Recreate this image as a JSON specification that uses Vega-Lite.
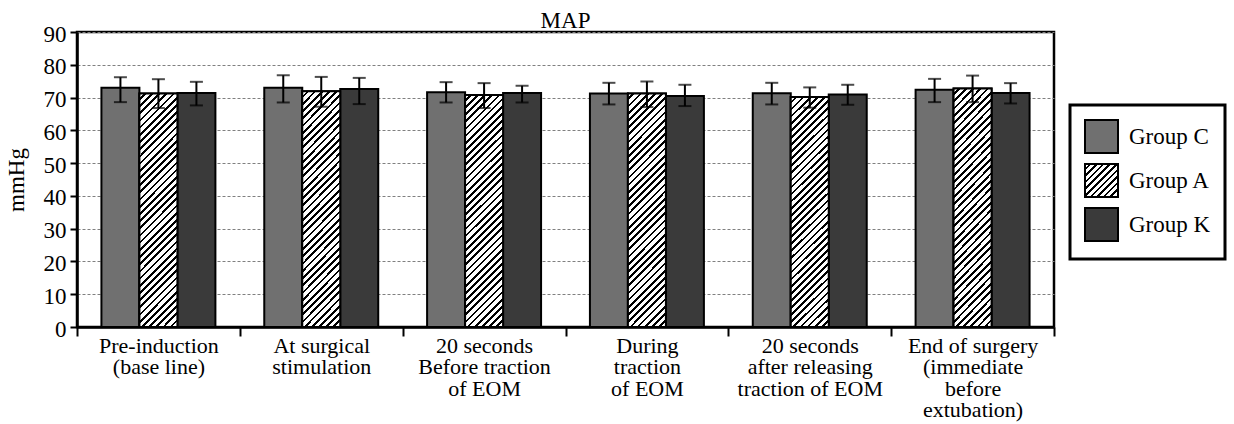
{
  "$schema": "https://vega.github.io/schema/vega-lite/v6.json",
  "autosize": {"type": "none"},
  "padding": {"left": 77, "top": 32, "right": 180, "bottom": 97},
  "width": 977,
  "height": 295,
  "title": {"text": "MAP"},
  "params": [
    {"name": "hatch", "value": {"gradient": "linear", "x1": 0, "y1": 0, "x2": 1, "y2": 1, "stops": [
      {"offset": 0, "color": "#fff"}, {"offset": 0.062, "color": "#fff"}, {"offset": 0.062, "color": "#000"}, {"offset": 0.1, "color": "#000"},
      {"offset": 0.1, "color": "#fff"}, {"offset": 0.162, "color": "#fff"}, {"offset": 0.162, "color": "#000"}, {"offset": 0.2, "color": "#000"},
      {"offset": 0.2, "color": "#fff"}, {"offset": 0.262, "color": "#fff"}, {"offset": 0.262, "color": "#000"}, {"offset": 0.3, "color": "#000"},
      {"offset": 0.3, "color": "#fff"}, {"offset": 0.362, "color": "#fff"}, {"offset": 0.362, "color": "#000"}, {"offset": 0.4, "color": "#000"},
      {"offset": 0.4, "color": "#fff"}, {"offset": 0.462, "color": "#fff"}, {"offset": 0.462, "color": "#000"}, {"offset": 0.5, "color": "#000"},
      {"offset": 0.5, "color": "#fff"}, {"offset": 0.562, "color": "#fff"}, {"offset": 0.562, "color": "#000"}, {"offset": 0.6, "color": "#000"},
      {"offset": 0.6, "color": "#fff"}, {"offset": 0.662, "color": "#fff"}, {"offset": 0.662, "color": "#000"}, {"offset": 0.7, "color": "#000"},
      {"offset": 0.7, "color": "#fff"}, {"offset": 0.762, "color": "#fff"}, {"offset": 0.762, "color": "#000"}, {"offset": 0.8, "color": "#000"},
      {"offset": 0.8, "color": "#fff"}, {"offset": 0.862, "color": "#fff"}, {"offset": 0.862, "color": "#000"}, {"offset": 0.9, "color": "#000"},
      {"offset": 0.9, "color": "#fff"}, {"offset": 0.962, "color": "#fff"}, {"offset": 0.962, "color": "#000"}, {"offset": 1, "color": "#000"}
    ]}}
  ],
  "data": {"values": [
    {"time": "Pre-induction\n(base line)", "group": "Group C", "mean": 73.0, "lo": 68.6, "hi": 76.2},
    {"time": "Pre-induction\n(base line)", "group": "Group A", "mean": 71.2, "lo": 66.8, "hi": 75.6},
    {"time": "Pre-induction\n(base line)", "group": "Group K", "mean": 71.4, "lo": 67.6, "hi": 74.8},
    {"time": "At surgical\nstimulation", "group": "Group C", "mean": 73.0, "lo": 68.5, "hi": 76.8},
    {"time": "At surgical\nstimulation", "group": "Group A", "mean": 71.9, "lo": 67.2, "hi": 76.3},
    {"time": "At surgical\nstimulation", "group": "Group K", "mean": 72.6, "lo": 68.0, "hi": 76.0},
    {"time": "20 seconds\nBefore traction\nof EOM", "group": "Group C", "mean": 71.6, "lo": 68.5, "hi": 74.7},
    {"time": "20 seconds\nBefore traction\nof EOM", "group": "Group A", "mean": 70.8, "lo": 66.8, "hi": 74.4},
    {"time": "20 seconds\nBefore traction\nof EOM", "group": "Group K", "mean": 71.4, "lo": 68.5, "hi": 73.6},
    {"time": "During\ntraction\nof EOM", "group": "Group C", "mean": 71.2, "lo": 67.9, "hi": 74.5},
    {"time": "During\ntraction\nof EOM", "group": "Group A", "mean": 71.2, "lo": 67.1, "hi": 74.9},
    {"time": "During\ntraction\nof EOM", "group": "Group K", "mean": 70.5, "lo": 67.4, "hi": 73.9},
    {"time": "20 seconds\nafter releasing\ntraction of EOM", "group": "Group C", "mean": 71.3, "lo": 67.9, "hi": 74.5},
    {"time": "20 seconds\nafter releasing\ntraction of EOM", "group": "Group A", "mean": 70.2, "lo": 66.9, "hi": 73.1},
    {"time": "20 seconds\nafter releasing\ntraction of EOM", "group": "Group K", "mean": 70.9, "lo": 67.8, "hi": 73.9},
    {"time": "End of surgery\n(immediate\nbefore\nextubation)", "group": "Group C", "mean": 72.4, "lo": 68.6, "hi": 75.7},
    {"time": "End of surgery\n(immediate\nbefore\nextubation)", "group": "Group A", "mean": 72.8, "lo": 68.6, "hi": 76.7},
    {"time": "End of surgery\n(immediate\nbefore\nextubation)", "group": "Group K", "mean": 71.4, "lo": 68.2, "hi": 74.4}
  ]},
  "encoding": {
    "x": {"field": "time", "type": "nominal", "sort": null,
      "scale": {"paddingInner": 0, "paddingOuter": 0},
      "axis": {"title": null, "labelAngle": 0, "tickBand": "extent", "tickSize": 9, "labelPadding": -1,
        "labelFontSize": 22, "labelLineHeight": 21.5, "labelBaseline": "top", "labelLimit": 400,
        "labelExpr": "split(datum.label, '\\n')", "grid": false}},
    "xOffset": {"field": "group", "type": "nominal",
      "scale": {"domain": ["Group C", "Group A", "Group K"], "paddingInner": 0, "paddingOuter": 0.643}}
  },
  "layer": [
    {
      "mark": {"type": "bar", "stroke": "black", "strokeWidth": 2},
      "encoding": {
        "y": {"field": "mean", "type": "quantitative", "title": "mmHg", "scale": {"domain": [0, 90]}},
        "fill": {"field": "group", "type": "nominal",
          "scale": {"domain": ["Group C", "Group A", "Group K"], "range": ["#707070", {"expr": "hatch"}, "#3a3a3a"]},
          "legend": {"orient": "none", "legendX": 993, "legendY": 73, "title": null,
            "symbolType": "square", "symbolSize": 1089, "symbolStrokeColor": "black", "symbolStrokeWidth": 2,
            "labelFontSize": 23, "labelFont": "Liberation Serif", "labelColor": "black", "labelOffset": 10,
            "padding": 14, "rowPadding": 3, "strokeColor": "black", "fillColor": "white",
            "encode": {"symbols": {"update": {
              "stroke": {"value": "black"},
              "strokeWidth": {"value": 2}
            }}}}}
      }
    },
    {
      "transform": [{"filter": "datum.group === 'Group A'"}],
      "mark": {"type": "bar", "stroke": "black", "strokeWidth": 2,
        "fill": {"gradient": "linear", "x1": 0, "y1": 0, "x2": 0.196, "y2": 1.2, "stops": [
              {"offset": 0, "color": "#fff"}, {"offset": 0.0155, "color": "#fff"}, {"offset": 0.0155, "color": "#000"}, {"offset": 0.025, "color": "#000"},
              {"offset": 0.025, "color": "#fff"}, {"offset": 0.0405, "color": "#fff"}, {"offset": 0.0405, "color": "#000"}, {"offset": 0.05, "color": "#000"},
              {"offset": 0.05, "color": "#fff"}, {"offset": 0.0655, "color": "#fff"}, {"offset": 0.0655, "color": "#000"}, {"offset": 0.075, "color": "#000"},
              {"offset": 0.075, "color": "#fff"}, {"offset": 0.0905, "color": "#fff"}, {"offset": 0.0905, "color": "#000"}, {"offset": 0.1, "color": "#000"},
              {"offset": 0.1, "color": "#fff"}, {"offset": 0.1155, "color": "#fff"}, {"offset": 0.1155, "color": "#000"}, {"offset": 0.125, "color": "#000"},
              {"offset": 0.125, "color": "#fff"}, {"offset": 0.1405, "color": "#fff"}, {"offset": 0.1405, "color": "#000"}, {"offset": 0.15, "color": "#000"},
              {"offset": 0.15, "color": "#fff"}, {"offset": 0.1655, "color": "#fff"}, {"offset": 0.1655, "color": "#000"}, {"offset": 0.175, "color": "#000"},
              {"offset": 0.175, "color": "#fff"}, {"offset": 0.1905, "color": "#fff"}, {"offset": 0.1905, "color": "#000"}, {"offset": 0.2, "color": "#000"},
              {"offset": 0.2, "color": "#fff"}, {"offset": 0.2155, "color": "#fff"}, {"offset": 0.2155, "color": "#000"}, {"offset": 0.225, "color": "#000"},
              {"offset": 0.225, "color": "#fff"}, {"offset": 0.2405, "color": "#fff"}, {"offset": 0.2405, "color": "#000"}, {"offset": 0.25, "color": "#000"},
              {"offset": 0.25, "color": "#fff"}, {"offset": 0.2655, "color": "#fff"}, {"offset": 0.2655, "color": "#000"}, {"offset": 0.275, "color": "#000"},
              {"offset": 0.275, "color": "#fff"}, {"offset": 0.2905, "color": "#fff"}, {"offset": 0.2905, "color": "#000"}, {"offset": 0.3, "color": "#000"},
              {"offset": 0.3, "color": "#fff"}, {"offset": 0.3155, "color": "#fff"}, {"offset": 0.3155, "color": "#000"}, {"offset": 0.325, "color": "#000"},
              {"offset": 0.325, "color": "#fff"}, {"offset": 0.3405, "color": "#fff"}, {"offset": 0.3405, "color": "#000"}, {"offset": 0.35, "color": "#000"},
              {"offset": 0.35, "color": "#fff"}, {"offset": 0.3655, "color": "#fff"}, {"offset": 0.3655, "color": "#000"}, {"offset": 0.375, "color": "#000"},
              {"offset": 0.375, "color": "#fff"}, {"offset": 0.3905, "color": "#fff"}, {"offset": 0.3905, "color": "#000"}, {"offset": 0.4, "color": "#000"},
              {"offset": 0.4, "color": "#fff"}, {"offset": 0.4155, "color": "#fff"}, {"offset": 0.4155, "color": "#000"}, {"offset": 0.425, "color": "#000"},
              {"offset": 0.425, "color": "#fff"}, {"offset": 0.4405, "color": "#fff"}, {"offset": 0.4405, "color": "#000"}, {"offset": 0.45, "color": "#000"},
              {"offset": 0.45, "color": "#fff"}, {"offset": 0.4655, "color": "#fff"}, {"offset": 0.4655, "color": "#000"}, {"offset": 0.475, "color": "#000"},
              {"offset": 0.475, "color": "#fff"}, {"offset": 0.4905, "color": "#fff"}, {"offset": 0.4905, "color": "#000"}, {"offset": 0.5, "color": "#000"},
              {"offset": 0.5, "color": "#fff"}, {"offset": 0.5155, "color": "#fff"}, {"offset": 0.5155, "color": "#000"}, {"offset": 0.525, "color": "#000"},
              {"offset": 0.525, "color": "#fff"}, {"offset": 0.5405, "color": "#fff"}, {"offset": 0.5405, "color": "#000"}, {"offset": 0.55, "color": "#000"},
              {"offset": 0.55, "color": "#fff"}, {"offset": 0.5655, "color": "#fff"}, {"offset": 0.5655, "color": "#000"}, {"offset": 0.575, "color": "#000"},
              {"offset": 0.575, "color": "#fff"}, {"offset": 0.5905, "color": "#fff"}, {"offset": 0.5905, "color": "#000"}, {"offset": 0.6, "color": "#000"},
              {"offset": 0.6, "color": "#fff"}, {"offset": 0.6155, "color": "#fff"}, {"offset": 0.6155, "color": "#000"}, {"offset": 0.625, "color": "#000"},
              {"offset": 0.625, "color": "#fff"}, {"offset": 0.6405, "color": "#fff"}, {"offset": 0.6405, "color": "#000"}, {"offset": 0.65, "color": "#000"},
              {"offset": 0.65, "color": "#fff"}, {"offset": 0.6655, "color": "#fff"}, {"offset": 0.6655, "color": "#000"}, {"offset": 0.675, "color": "#000"},
              {"offset": 0.675, "color": "#fff"}, {"offset": 0.6905, "color": "#fff"}, {"offset": 0.6905, "color": "#000"}, {"offset": 0.7, "color": "#000"},
              {"offset": 0.7, "color": "#fff"}, {"offset": 0.7155, "color": "#fff"}, {"offset": 0.7155, "color": "#000"}, {"offset": 0.725, "color": "#000"},
              {"offset": 0.725, "color": "#fff"}, {"offset": 0.7405, "color": "#fff"}, {"offset": 0.7405, "color": "#000"}, {"offset": 0.75, "color": "#000"},
              {"offset": 0.75, "color": "#fff"}, {"offset": 0.7655, "color": "#fff"}, {"offset": 0.7655, "color": "#000"}, {"offset": 0.775, "color": "#000"},
              {"offset": 0.775, "color": "#fff"}, {"offset": 0.7905, "color": "#fff"}, {"offset": 0.7905, "color": "#000"}, {"offset": 0.8, "color": "#000"},
              {"offset": 0.8, "color": "#fff"}, {"offset": 0.8155, "color": "#fff"}, {"offset": 0.8155, "color": "#000"}, {"offset": 0.825, "color": "#000"},
              {"offset": 0.825, "color": "#fff"}, {"offset": 0.8405, "color": "#fff"}, {"offset": 0.8405, "color": "#000"}, {"offset": 0.85, "color": "#000"},
              {"offset": 0.85, "color": "#fff"}, {"offset": 0.8655, "color": "#fff"}, {"offset": 0.8655, "color": "#000"}, {"offset": 0.875, "color": "#000"},
              {"offset": 0.875, "color": "#fff"}, {"offset": 0.8905, "color": "#fff"}, {"offset": 0.8905, "color": "#000"}, {"offset": 0.9, "color": "#000"},
              {"offset": 0.9, "color": "#fff"}, {"offset": 0.9155, "color": "#fff"}, {"offset": 0.9155, "color": "#000"}, {"offset": 0.925, "color": "#000"},
              {"offset": 0.925, "color": "#fff"}, {"offset": 0.9405, "color": "#fff"}, {"offset": 0.9405, "color": "#000"}, {"offset": 0.95, "color": "#000"},
              {"offset": 0.95, "color": "#fff"}, {"offset": 0.9655, "color": "#fff"}, {"offset": 0.9655, "color": "#000"}, {"offset": 0.975, "color": "#000"},
              {"offset": 0.975, "color": "#fff"}, {"offset": 0.9905, "color": "#fff"}, {"offset": 0.9905, "color": "#000"}, {"offset": 1, "color": "#000"}
            ]}},
      "encoding": {
        "y": {"field": "mean", "type": "quantitative", "title": "mmHg", "scale": {"domain": [0, 90]}}
      }
    },
    {
      "mark": {"type": "rule", "color": "black", "strokeWidth": 2},
      "encoding": {
        "y": {"field": "lo", "type": "quantitative", "title": "mmHg", "scale": {"domain": [0, 90]}},
        "y2": {"field": "hi"}
      }
    },
    {
      "mark": {"type": "tick", "color": "black", "thickness": 2, "size": 13},
      "encoding": {
        "y": {"field": "lo", "type": "quantitative", "title": "mmHg", "scale": {"domain": [0, 90]}}
      }
    },
    {
      "mark": {"type": "tick", "color": "black", "thickness": 2, "size": 13},
      "encoding": {
        "y": {"field": "hi", "type": "quantitative", "title": "mmHg", "scale": {"domain": [0, 90]}}
      }
    }
  ],
  "config": {
    "font": "Liberation Serif",
    "background": "white",
    "view": {"stroke": "black", "strokeWidth": 2.5},
    "title": {"fontSize": 23, "fontWeight": "normal", "font": "Liberation Serif", "color": "black", "offset": 0, "dy": 14},
    "legend": {"strokeWidth": 3},
    "axis": {"domainColor": "black", "domainWidth": 2.5, "tickColor": "black", "tickWidth": 2,
      "labelColor": "black", "labelFont": "Liberation Serif", "titleFont": "Liberation Serif",
      "titleFontWeight": "normal", "titleColor": "black"},
    "axisY": {"grid": true, "gridColor": "#808080", "gridDash": [3, 2], "gridWidth": 1, "tickSize": 7,
      "labelFontSize": 23, "labelPadding": 4, "labelOffset": 2, "titleFontSize": 23, "titlePadding": 15,
      "values": [0, 10, 20, 30, 40, 50, 60, 70, 80, 90]}
  }
}
